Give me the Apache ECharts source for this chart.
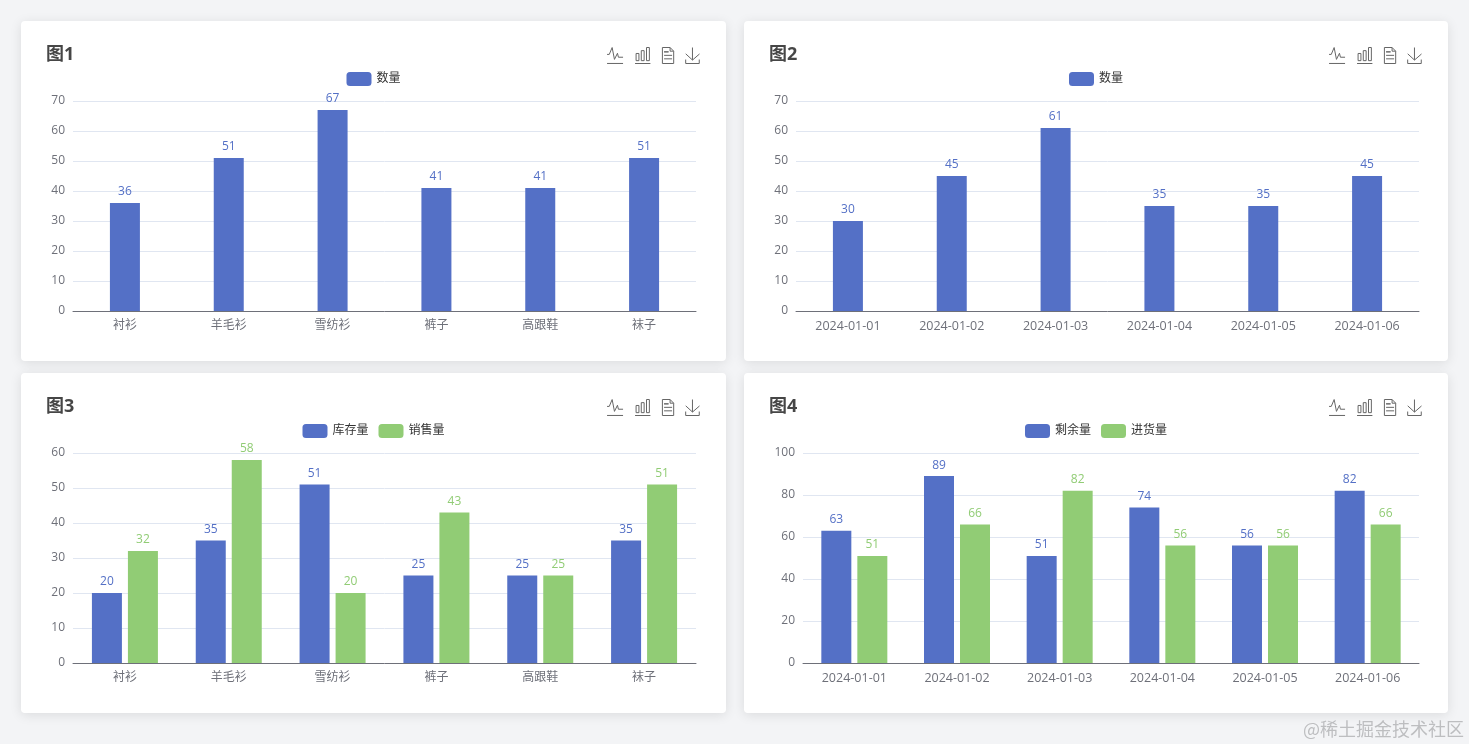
<!DOCTYPE html>
<html><head><meta charset="utf-8">
<style>
html,body{margin:0;padding:0;width:1469px;height:744px;overflow:hidden;background:#f3f4f6;font-family:"Noto Sans CJK SC","Noto Sans",sans-serif}
.card{position:absolute;background:#fff;border-radius:4px;box-shadow:0 2px 12px 0 rgba(0,0,0,.1)}
#wm{position:absolute;left:1303px;top:715px;font-size:18px;line-height:26px;color:#bdbec0;white-space:nowrap}
</style>
<script src="https://cdn.jsdelivr.net/npm/echarts@6/dist/echarts.min.js"></script>
</head><body>
<div class="card" id="c1" style="left:21px;top:21px;width:705px;height:340px"></div>
<div class="card" id="c2" style="left:744px;top:21px;width:704px;height:340px"></div>
<div class="card" id="c3" style="left:21px;top:373px;width:705px;height:340px"></div>
<div class="card" id="c4" style="left:744px;top:373px;width:704px;height:340px"></div>
<div id="wm">@稀土掘金技术社区</div>
<script>
var clothes = ['衬衫','羊毛衫','雪纺衫','裤子','高跟鞋','袜子'];
var dates = ['2024-01-01','2024-01-02','2024-01-03','2024-01-04','2024-01-05','2024-01-06'];
var qty1 = [36,51,67,41,41,51];
var qty2 = [30,45,61,35,35,45];
var stock = [20,35,51,25,25,35];
var sales = [32,58,20,43,25,51];
var remain = [63,89,51,74,56,82];
var purchase = [51,66,82,56,56,66];
var BLUE = '#5470c6', GREEN = '#91cc75', FONT = '"Open Sans","Noto Sans CJK SC",sans-serif';

function build(id, title, cats, series, yMax, yInt, left, right, xFont){
  var colors = [BLUE, GREEN];
  echarts.init(document.getElementById(id), null, {renderer:'canvas'}).setOption({
    animation:false,
    textStyle:{fontFamily:FONT},
    title:{text:title,left:20,top:20,textStyle:{fontSize:18,fontWeight:'bold',color:'#464646',fontFamily:FONT}},
    legend:{top:46,itemWidth:25,itemHeight:14,itemGap:10,textStyle:{fontSize:12,color:'#333',fontFamily:FONT},
      data:series.map(function(s){return s.name;})},
    toolbox:{right:9,top:9,itemSize:16,itemGap:7,
      iconStyle:{borderColor:'#666',borderWidth:1},
      feature:{magicType:{type:['line','bar']},dataView:{},saveAsImage:{}}},
    grid:{left:left,right:right,top:80,bottom:50},
    xAxis:{type:'category',data:cats,
      axisTick:{show:false},
      axisLine:{lineStyle:{color:'#6e7079'}},
      axisLabel:{fontSize:xFont,color:'#6e7079',margin:9,fontFamily:FONT}},
    yAxis:{type:'value',min:0,max:yMax,interval:yInt,
      axisLabel:{fontSize:12,color:'#6e7079',margin:8,fontFamily:FONT},
      splitLine:{lineStyle:{color:'#e0e6f1'}}},
    series:series.map(function(s,i){return {
      name:s.name,type:'bar',data:s.data,barWidth:30,barGap:'20%',
      itemStyle:{color:colors[i]},
      label:{show:true,position:'top',fontSize:12,color:colors[i],distance:5,fontFamily:FONT}
    };})
  });
}
build('c1','图1',clothes,[{name:'数量',data:qty1}],70,10,52,30,12);
build('c2','图2',dates,[{name:'数量',data:qty2}],70,10,52,29,12.5);
build('c3','图3',clothes,[{name:'库存量',data:stock},{name:'销售量',data:sales}],60,10,52,30,12);
build('c4','图4',dates,[{name:'剩余量',data:remain},{name:'进货量',data:purchase}],100,20,59,29,12.5);
</script>
</body></html>
